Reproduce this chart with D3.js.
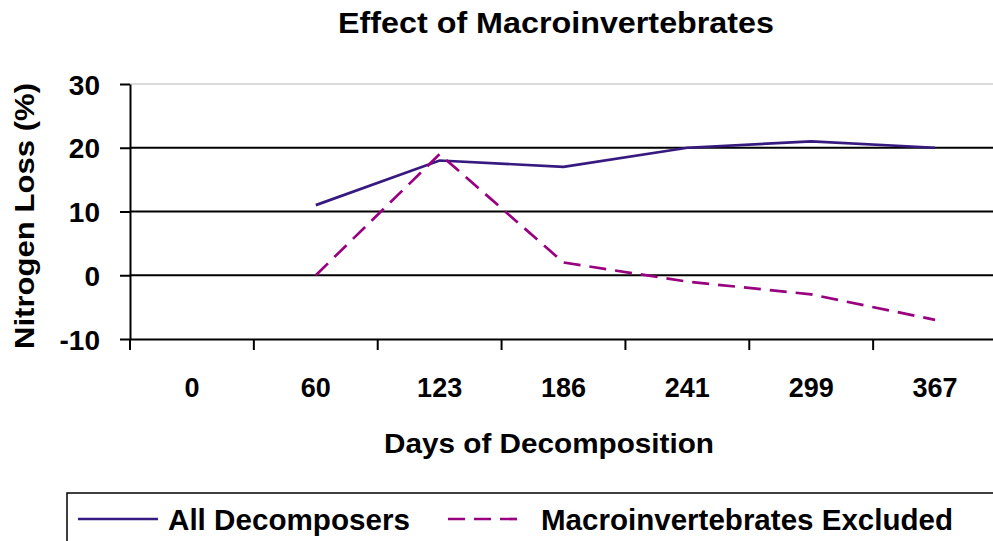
<!DOCTYPE html>
<html>
<head>
<meta charset="utf-8">
<title>Effect of Macroinvertebrates</title>
<script src="https://cdn.jsdelivr.net/npm/d3@7"></script>
<style>
  body { margin: 0; background: #fff; }
  svg text { font-family: "Liberation Sans", Arial, sans-serif; font-weight: bold; fill: #000; }
</style>
</head>
<body>
<div id="container"></div>
<script>
// data
var days = ["0", "60", "123", "186", "241", "299", "367"];
var allDecomposers = [null, 11, 18, 17, 20, 21, 20];
var macroExcluded = [null, 0, 19, 2, -1, -3, -7];
var yTicks = [-10, 0, 10, 20, 30];
var seriesNames = ["All Decomposers", "Macroinvertebrates Excluded"];

const width = 993, height = 541;
const plot = { left: 130, right: 997, top: 84, bottom: 339 };

var svg = d3.select("#container").append("svg")
    .attr("width", width)
    .attr("height", height);

var x = d3.scaleBand().domain(days).range([plot.left, plot.right]);
var y = d3.scaleLinear().domain([-10, 30]).range([plot.bottom, plot.top]);

// gridlines
svg.append("g").selectAll("line")
  .data(yTicks.filter(function(d) { return d != -10; }))
  .enter().append("line")
    .attr("x1", plot.left).attr("x2", width)
    .attr("y1", function(d) { return y(d); })
    .attr("y2", function(d) { return y(d); })
    .attr("stroke", function(d) { return d == 30 ? "#cfcfcf" : "#000"; })
    .attr("stroke-width", function(d) { return d == 30 ? 1.5 : 2; });

// y axis
var yAxis = svg.append("g")
    .attr("transform", `translate(${plot.left},0)`)
    .call(d3.axisLeft(y).tickValues(yTicks).tickSize(10).tickSizeOuter(0).tickPadding(20)
      .tickFormat(function(d) { return String(d); }));
yAxis.select(".domain").attr("stroke", "#000").attr("stroke-width", 2);
yAxis.selectAll(".tick line").attr("stroke", "#000").attr("stroke-width", 2);
yAxis.selectAll(".tick text")
    .attr("font-size", 28)
    .attr("font-family", null)
    .attr("dy", "0.36em");

// x axis: ticks between categories
var xAxis = svg.append("g")
    .attr("transform", `translate(0,${plot.bottom})`)
    .call(d3.axisBottom(x).tickSize(0).tickPadding(39));
xAxis.select(".domain").attr("stroke", "#000").attr("stroke-width", 2);
xAxis.selectAll(".tick text").attr("font-size", 27).attr("font-family", null);
xAxis.selectAll("line.sep")
  .data(days)
  .enter().append("line")
    .attr("class", "sep")
    .attr("x1", function(d) { return x(d); })
    .attr("x2", function(d) { return x(d); })
    .attr("y1", 0).attr("y2", 11)
    .attr("stroke", "#000").attr("stroke-width", 2);

// series lines
var line = d3.line()
    .defined(function(d) { return d != null; })
    .x(function(d, i) { return x(days[i]) + x.bandwidth() / 2; })
    .y(function(d) { return y(d); });

svg.append("path")
    .datum(allDecomposers)
    .attr("d", line)
    .attr("fill", "none")
    .attr("stroke", "#371a80")
    .attr("stroke-width", 2.7);

svg.append("path")
    .datum(macroExcluded)
    .attr("d", line)
    .attr("fill", "none")
    .attr("stroke", "#990080")
    .attr("stroke-width", 2.7)
    .attr("stroke-dasharray", "17,9");

// titles
svg.append("text")
    .attr("x", 556).attr("y", 33)
    .attr("text-anchor", "middle")
    .attr("font-size", 29)
    .attr("textLength", 436).attr("lengthAdjust", "spacingAndGlyphs")
    .text("Effect of Macroinvertebrates");

svg.append("text")
    .attr("x", 549).attr("y", 453)
    .attr("text-anchor", "middle")
    .attr("font-size", 28)
    .attr("textLength", 330).attr("lengthAdjust", "spacingAndGlyphs")
    .text("Days of Decomposition");

svg.append("text")
    .attr("transform", "translate(34,216) rotate(-90)")
    .attr("text-anchor", "middle")
    .attr("font-size", 27)
    .attr("textLength", 266).attr("lengthAdjust", "spacingAndGlyphs")
    .text("Nitrogen Loss (%)");

// legend
var legend = svg.append("g");
legend.append("rect")
    .attr("x", 67).attr("y", 493)
    .attr("width", 960).attr("height", 80)
    .attr("fill", "none").attr("stroke", "#000").attr("stroke-width", 1.5);

var legendItems = [
  { name: seriesNames[0], color: "#371a80", dash: null, x1: 78, x2: 158, tx: 168, len: 242 },
  { name: seriesNames[1], color: "#990080", dash: "17,9", x1: 448, x2: 525, tx: 541, len: 412 }
];
legendItems.forEach(function(it) {
  legend.append("line")
      .attr("x1", it.x1).attr("x2", it.x2)
      .attr("y1", 519).attr("y2", 519)
      .attr("stroke", it.color).attr("stroke-width", 2.7)
      .attr("stroke-dasharray", it.dash);
  legend.append("text")
      .attr("x", it.tx).attr("y", 530)
      .attr("font-size", 29.5)
      .attr("textLength", it.len).attr("lengthAdjust", "spacingAndGlyphs")
      .text(it.name);
});
</script>
</body>
</html>
